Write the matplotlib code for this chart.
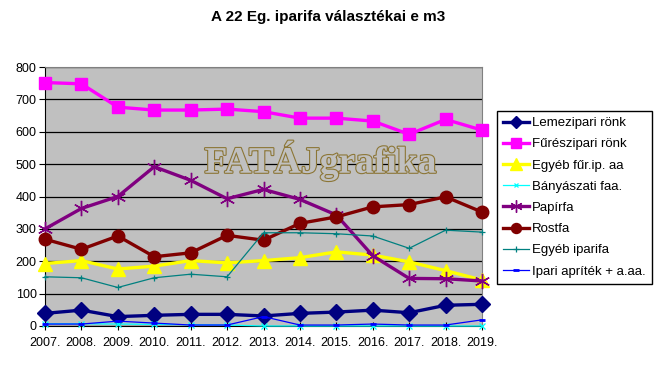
import matplotlib
matplotlib.use('Agg')
import matplotlib.pyplot as plt
import matplotlib.patheffects as pe

plt.rcParams['font.family'] = ['Liberation Sans', 'DejaVu Sans']

years = ['2007.', '2008.', '2009.', '2010.', '2011.', '2012.', '2013.',
         '2014.', '2015.', '2016.', '2017.', '2018.', '2019.']

lemezipari = [39, 49, 29, 33, 36, 36, 31, 39, 43, 49, 41, 64, 67]
fureszipari = [752, 748, 676, 667, 667, 670, 662, 642, 642, 633, 592, 638, 605]
egyeb_fur = [193, 202, 176, 185, 202, 195, 202, 211, 229, 219, 198, 171, 142]
banyaszati = [7, 7, 6, 5, 4, 3, 0, 0, 0, 0, 0, 0, 0]
papirfa = [300, 363, 400, 492, 450, 393, 422, 391, 343, 217, 147, 146, 139]
rostfa = [268, 237, 278, 214, 226, 280, 265, 317, 337, 368, 375, 399, 352]
egyeb_iparifa = [152, 149, 119, 149, 160, 152, 288, 288, 285, 278, 240, 296, 290]
ipari_apritek = [6, 6, 15, 9, 3, 3, 29, 3, 3, 6, 3, 3, 19]

x = list(range(len(years)))

fig = plt.figure(figsize=(6.57, 3.68), dpi=100)
ax = fig.add_axes([45 / 657, 1 - 326 / 368, 437 / 657, 259 / 368])
ax.set_facecolor('#C0C0C0')

# watermark
ax.text(0.63, 0.64, 'FATÁJgrafika', transform=ax.transAxes, ha='center', va='center',
        fontsize=27, fontweight='bold', family='Liberation Serif', color='#C0C0C0',
        zorder=1.5, path_effects=[pe.withStroke(linewidth=1.6, foreground='#8C7636')])

ax.plot(x, lemezipari, color='#000080', lw=2.4, marker='D', ms=8, label='Lemezipari rönk', clip_on=False, zorder=3)
ax.plot(x, fureszipari, color='#FF00FF', lw=2.4, marker='s', ms=9, label='Fűrészipari rönk', clip_on=False, zorder=3)
ax.plot(x, egyeb_fur, color='#FFFF00', lw=2.4, marker='^', ms=10, label='Egyéb fűr.ip. aa', clip_on=False, zorder=3)
ax.plot(x, banyaszati, color='#00FFFF', lw=0.9, marker='x', ms=4, mew=0.9, label='Bányászati faa.', clip_on=False, zorder=3)
ax.plot(x, papirfa, color='#800080', lw=2.4, marker=(6, 2, 0), ms=11, mew=1.0, label='Papírfa', clip_on=False, zorder=3)
ax.plot(x, rostfa, color='#800000', lw=2.4, marker='o', ms=9, label='Rostfa', clip_on=False, zorder=3)
ax.plot(x, egyeb_iparifa, color='#008080', lw=0.9, marker='+', ms=5, mew=0.9, label='Egyéb iparifa', clip_on=False, zorder=3)
ax.plot(x, ipari_apritek, color='#0000FF', lw=0.9, marker='_', ms=5, mew=2, label='Ipari apríték + a.aa.', clip_on=False, zorder=3)

ax.set_xlim(0, len(years) - 1)
ax.set_ylim(0, 800)
ax.set_xticks(x)
ax.set_xticklabels(years)
ax.set_yticks(range(0, 801, 100))
ax.yaxis.grid(True, color='black', lw=0.9)
ax.set_axisbelow(True)
ax.tick_params(axis='y', direction='out', length=4, labelsize=9, pad=2)
ax.tick_params(axis='x', direction='inout', length=6, labelsize=9, pad=5)
for s in ['top', 'right']:
    ax.spines[s].set_color('#808080')
for s in ['left', 'bottom']:
    ax.spines[s].set_color('black')

fig.text(0.5, 1 - 17 / 368, 'A 22 Eg. iparifa választékai e m3', ha='center', va='center',
         fontsize=11, fontweight='bold')

leg = fig.legend(loc='upper left', bbox_to_anchor=(497 / 657, 1 - 111 / 368), fontsize=9.5,
                 frameon=True, fancybox=False, framealpha=1, edgecolor='black',
                 handlelength=2.0, handletextpad=0.2, labelspacing=0.68, borderpad=0.45,
                 borderaxespad=0, markerscale=0.8)
leg.get_frame().set_linewidth(1.0)

fig.savefig('out.png', dpi=100)
